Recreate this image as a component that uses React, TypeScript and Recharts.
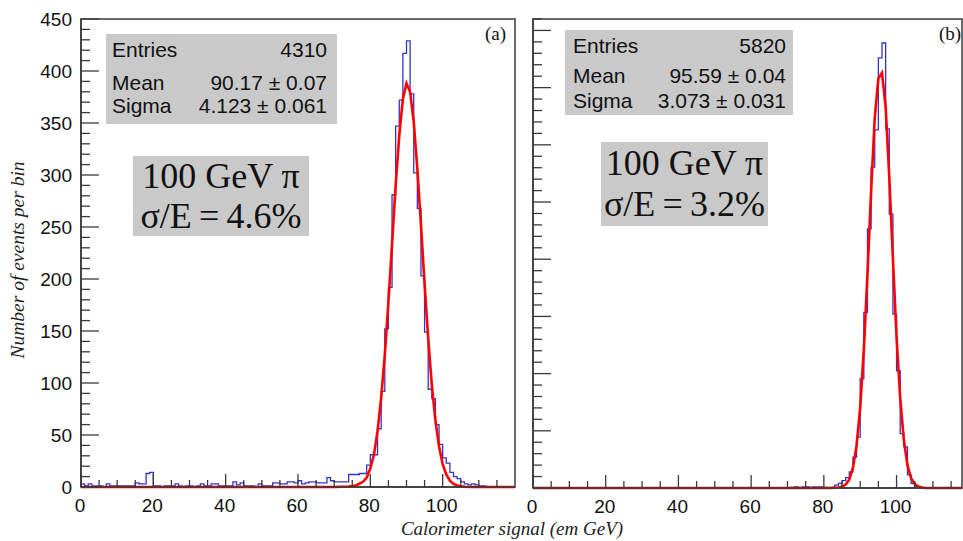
import React from 'react';
import { ComposedChart, Line, XAxis, YAxis, ReferenceArea } from 'recharts';

// ---- data (bin i covers [i, i+1] in em GeV) ----
const leftCounts = [
  3, 1, 3, 1, 1, 1, 0, 3, 1, 1,
  1, 1, 1, 1, 1, 4, 3, 3, 13, 14,
  1, 1, 0, 1, 1, 1, 3, 1, 0, 1,
  1, 0, 1, 3, 1, 1, 3, 3, 1, 1,
  1, 1, 5, 2, 4, 1, 1, 1, 0, 3,
  1, 1, 1, 4, 4, 3, 3, 5, 5, 4,
  6, 3, 4, 5, 5, 4, 4, 4, 9, 6,
  5, 5, 5, 5, 12, 12, 12, 13, 13, 21,
  31, 31, 56, 92, 152, 192, 281, 347, 372, 417,
  429, 378, 302, 268, 203, 149, 94, 85, 60, 41,
  28, 23, 14, 10, 8, 5, 3, 2, 3, 2,
  1, 1, 0, 0, 0, 0, 0, 0, 0, 0,
];

const rightCounts = [
  0, 0, 0, 0, 0, 0, 0, 0, 0, 0,
  0, 0, 0, 0, 0, 0, 0, 0, 0, 0,
  0, 0, 0, 0, 0, 0, 0, 0, 0, 0,
  0, 0, 0, 0, 0, 0, 0, 0, 0, 0,
  0, 0, 0, 0, 0, 0, 0, 0, 0, 0,
  0, 0, 0, 0, 0, 0, 0, 0, 0, 0,
  0, 0, 0, 0, 0, 0, 0, 0, 0, 0,
  0, 1, 2, 0, 2, 2, 1, 2, 2, 2,
  1, 0, 1, 5, 8, 13, 18, 28, 54, 89,
  191, 307, 453, 561, 626, 752, 778, 628, 479, 304,
  205, 95, 72, 23, 8, 3, 1, 0, 0, 0,
  0, 0, 0, 0, 0, 0, 0, 0,
];

const leftFitX = [0, 70, 74, 76, 78, 79, 80, 81, 82, 83, 84, 85, 86, 87, 88, 89, 90, 91, 92, 93, 94, 95, 96, 97, 98, 99, 100, 101, 102, 103, 104, 106, 108, 120];
const leftFitY = [0, 0, 0.5, 1.5, 5, 9, 18, 31, 54, 86, 127, 178, 233, 290, 338, 373, 388, 380, 351, 306, 252, 195, 143, 98, 64, 39, 22, 12, 6, 3, 1.4, 0.2, 0, 0];

const rightFitX = [0, 82, 84, 85, 86, 87, 88, 89, 90, 91, 92, 93, 94, 95, 96, 97, 98, 99, 100, 101, 102, 103, 104, 105, 106, 107, 108, 118];
const rightFitY = [0, 0, 1, 2.5, 6, 15, 35, 74, 141, 242, 374, 519, 647, 716, 726, 666, 544, 400, 264, 157, 84, 40, 17, 7, 2.5, 0.8, 0, 0];

const leftXTicks = [0, 5, 10, 15, 20, 25, 30, 35, 40, 45, 50, 55, 60, 65, 70, 75, 80, 85, 90, 95, 100, 105, 110, 115];
const rightXTicks = [0, 5, 10, 15, 20, 25, 30, 35, 40, 45, 50, 55, 60, 65, 70, 75, 80, 85, 90, 95, 100, 105, 110, 115];
const xTickLabels = [0, 20, 40, 60, 80, 100];
const leftYTicks = [0, 10, 20, 30, 40, 50, 60, 70, 80, 90, 100, 110, 120, 130, 140, 150, 160, 170, 180, 190, 200, 210, 220, 230, 240, 250, 260, 270, 280, 290, 300, 310, 320, 330, 340, 350, 360, 370, 380, 390, 400, 410, 420, 430, 440, 450];
const leftYTickLabels = [0, 50, 100, 150, 200, 250, 300, 350, 400, 450];
const rightYTicks = [0, 20, 40, 60, 80, 100, 120, 140, 160, 180, 200, 220, 240, 260, 280, 300, 320, 340, 360, 380, 400, 420, 440, 460, 480, 500, 520, 540, 560, 580, 600, 620, 640, 660, 680, 700, 720, 740, 760, 780, 800, 820];
const rightYMajor = [0, 100, 200, 300, 400, 500, 600, 700, 800];

const statLabels = ['Entries', 'Mean', 'Sigma'];
const leftStatValues = ['4310', '90.17 ± 0.07', '4.123 ± 0.061'];
const rightStatValues = ['5820', '95.59 ± 0.04', '3.073 ± 0.031'];
const leftResolution = ['100 GeV π', 'σ/E\u2009=\u20094.6%'];
const rightResolution = ['100 GeV π', 'σ/E\u2009=\u20093.2%'];
const panelTags = ['(a)', '(b)'];
const xTitle = 'Calorimeter signal (em GeV)';
const yTitle = 'Number of events per bin';

// ---- styles ----
const SANS = 'Liberation Sans, Arial, Helvetica, sans-serif';
const SERIF = 'Liberation Serif, Times New Roman, serif';
const AXIS = '#3a3a3a';
const HIST = '#3434c4';
const FIT = '#ff0000';
const BOX = '#c9c9c9';

const toSteps = (counts: number[]) =>
  counts.map((c, i) => ({ x: i, y: c })).concat([{ x: counts.length, y: counts[counts.length - 1] }]);
const toPts = (xs: number[], ys: number[]) => xs.map((x, i) => ({ x, y: ys[i] }));

const makeXTick = (labels: number[]) => (p: any) => {
  const { x, y, payload } = p;
  const v = payload.value;
  const major = v % 20 === 0;
  return (
    <g key={`xt-${v}`}>
      <line x1={x} x2={x} y1={y} y2={y - (major ? 13 : 7)} stroke={AXIS} strokeWidth={1.3} />
      {labels.includes(v) && (
        <text x={x - 1} y={y + 25} textAnchor="middle" fontFamily={SANS} fontSize={19} fill="#111">
          {v}
        </text>
      )}
    </g>
  );
};

const makeYTick = (majors: number[], labels: number[]) => (p: any) => {
  const { x, y, payload } = p;
  const v = payload.value;
  const major = majors.includes(v);
  return (
    <g key={`yt-${v}`}>
      <line x1={x} x2={x + (major ? 18 : 9)} y1={y} y2={y} stroke={AXIS} strokeWidth={1.3} />
      {labels.includes(v) && (
        <text x={x - 9} y={y + 7} textAnchor="end" fontFamily={SANS} fontSize={19} fill="#111">
          {v}
        </text>
      )}
    </g>
  );
};

const StatBox = ({ x, y, w, h, values, labelX, valueX, baselines }: any) => (
  <g>
    <rect x={x} y={y} width={w} height={h} fill={BOX} />
    {statLabels.map((l, i) => (
      <text key={l} x={labelX} y={baselines[i]} fontFamily={SANS} fontSize={21} fill="#111">
        {l}
      </text>
    ))}
    {values.map((v: string, i: number) => (
      <text key={i} x={valueX} y={baselines[i]} textAnchor="end" fontFamily={SANS} fontSize={21} fill="#111">
        {v}
      </text>
    ))}
  </g>
);

const ResBox = ({ x, y, w, h, lines, b1, b2 }: any) => (
  <g>
    <rect x={x} y={y} width={w} height={h} fill={BOX} />
    <text x={x + w / 2} y={b1} textAnchor="middle" fontFamily={SERIF} fontSize={36} fill="#111">
      {lines[0]}
    </text>
    <text x={x + w / 2} y={b2} textAnchor="middle" fontFamily={SERIF} fontSize={36} fill="#111">
      {lines[1]}
    </text>
  </g>
);

export default function App() {
  const leftHist = toSteps(leftCounts);
  const rightHist = toSteps(rightCounts);
  const leftFit = toPts(leftFitX, leftFitY);
  const rightFit = toPts(rightFitX, rightFitY);

  return (
    <div style={{ position: 'absolute', left: 0, top: 0, width: 963, height: 541, background: '#fff', overflow: 'hidden' }}>
      <div style={{ position: 'absolute', left: 0, top: 0 }}>
        <ComposedChart width={520} height={541} margin={{ top: 19, right: 5, bottom: 24, left: 21 }}>
          <XAxis
            type="number"
            dataKey="x"
            domain={[0, 120]}
            ticks={leftXTicks}
            interval={0}
            tickSize={0}
            tickMargin={0}
            tickLine={false}
            height={30}
            axisLine={{ stroke: AXIS, strokeWidth: 1.5 }}
            tick={makeXTick(xTickLabels)}
          />
          <YAxis
            type="number"
            domain={[0, 450]}
            ticks={leftYTicks}
            interval={0}
            tickSize={0}
            tickMargin={0}
            tickLine={false}
            width={60}
            axisLine={{ stroke: AXIS, strokeWidth: 1.5 }}
            tick={makeYTick(leftYTickLabels, leftYTickLabels)}
          />
          <ReferenceArea x1={0} x2={120} y1={0} y2={450} fill="none" stroke={AXIS} strokeWidth={1.5} />
          <Line data={leftHist} dataKey="y" type="stepAfter" stroke={HIST} strokeWidth={1.3} dot={false} isAnimationActive={false} />
          <Line data={leftFit} dataKey="y" type="linear" stroke={FIT} strokeWidth={2.6} dot={false} isAnimationActive={false} />
        </ComposedChart>
      </div>
      <div style={{ position: 'absolute', left: 520, top: 0 }}>
        <ComposedChart width={443} height={541} margin={{ top: 19, right: 1, bottom: 23, left: 0 }}>
          <XAxis
            type="number"
            dataKey="x"
            domain={[0, 118]}
            ticks={rightXTicks}
            interval={0}
            tickSize={0}
            tickMargin={0}
            tickLine={false}
            height={30}
            axisLine={{ stroke: AXIS, strokeWidth: 1.5 }}
            tick={makeXTick(xTickLabels)}
          />
          <YAxis
            type="number"
            domain={[0, 820]}
            ticks={rightYTicks}
            interval={0}
            tickSize={0}
            tickMargin={0}
            tickLine={false}
            width={13}
            axisLine={{ stroke: AXIS, strokeWidth: 1.5 }}
            tick={makeYTick(rightYMajor, [])}
          />
          <ReferenceArea x1={0} x2={118} y1={0} y2={820} fill="none" stroke={AXIS} strokeWidth={1.5} />
          <Line data={rightHist} dataKey="y" type="stepAfter" stroke={HIST} strokeWidth={1.3} dot={false} isAnimationActive={false} />
          <Line data={rightFit} dataKey="y" type="linear" stroke={FIT} strokeWidth={2.6} dot={false} isAnimationActive={false} />
        </ComposedChart>
      </div>
      <svg width={963} height={541} style={{ position: 'absolute', left: 0, top: 0, pointerEvents: 'none' }}>
        <StatBox x={106} y={34} w={231} h={90} values={leftStatValues} labelX={112} valueX={327} baselines={[57, 90, 113]} />
        <StatBox x={565} y={30} w={228} h={85} values={rightStatValues} labelX={573} valueX={786} baselines={[53, 83, 108]} />
        <ResBox x={133} y={156} w={176} h={80} lines={leftResolution} b1={188} b2={228} />
        <ResBox x={601} y={142} w={167} h={84} lines={rightResolution} b1={175} b2={216} />
        <text x={485} y={40} fontFamily={SERIF} fontSize={19} fill="#111">{panelTags[0]}</text>
        <text x={939} y={40} fontFamily={SERIF} fontSize={19} fill="#111">{panelTags[1]}</text>
        <text x={512} y={535} textAnchor="middle" fontFamily={SERIF} fontStyle="italic" fontSize={19} fill="#222">{xTitle}</text>
        <text
          x={0}
          y={0}
          transform="translate(24 260) rotate(-90)"
          textAnchor="middle"
          fontFamily={SERIF}
          fontStyle="italic"
          fontSize={19.5}
          fill="#222"
        >
          {yTitle}
        </text>
      </svg>
    </div>
  );
}
